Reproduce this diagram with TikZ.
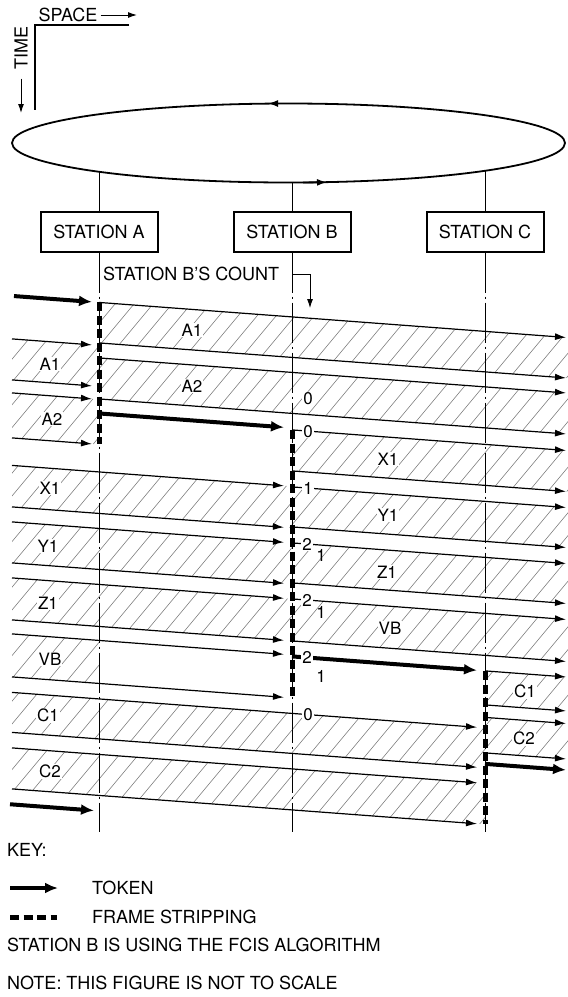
\documentclass[tikz,border=0pt]{standalone}
\usepackage{fontspec}
\setmainfont{TeX Gyre Heros}
\usetikzlibrary{arrows.meta,positioning}
\newcommand{\figfont}{\fontsize{18}{21}\selectfont}
\newcommand{\lblfont}{\fontsize{17}{20}\selectfont}

\begin{document}
\begin{tikzpicture}[x=1pt,y=-1pt,font=\figfont,
	station/.style={draw,line width=2pt,minimum width=117pt,minimum height=40pt,inner sep=0pt},
	txt/.style={inner sep=0pt},
	lbl/.style={font=\lblfont,fill=white,inner sep=1pt},
	fline/.style={line width=1.2pt,-{Latex[length=11pt,width=7pt]}},
	token/.style={line width=4pt,-{Latex[length=13pt,width=11pt]}},
	strip/.style={line width=5pt,dash pattern=on 9pt off 4.5pt},
	stline/.style={line width=0.6pt,dash pattern=on 40pt off 4pt on 2pt off 4pt},
	hatch/.style={line width=0.6pt,black!50}]
	\useasboundingbox (0,0) rectangle (568,997);

	% space / time axes
	\node[txt] (space) at (68,15) {SPACE};
	\coordinate (spaceTip) at (137,15);
	\draw[line width=1pt,-{Latex[length=9pt,width=6pt]}] ([xshift=3pt]space.east) -- (spaceTip);
	\draw[line width=1.3pt] (129,25) -- (35,25) -- (35,110);
	\node[txt,rotate=90] (time) at (21,48) {TIME};
	\coordinate (timeTip) at (21,113);
	\draw[line width=1pt,-{Latex[length=9pt,width=6pt]}] ([yshift=-9pt]time.west) -- (timeTip);

	% ring and stations
	\draw[line width=1.8pt] (288.5,143) ellipse [x radius=276.5, y radius=39.5];
	\draw[line width=1.8pt,-{Latex[length=10pt,width=7pt]}] (292,103.5) -- (268,103.5);
	\draw[line width=1.8pt,-{Latex[length=10pt,width=7pt]}] (303,182.5) -- (327,182.3);
	\node[station] (staA) at (99,231.5) {STATION A};
	\node[station] (staB) at (292,231.5) {STATION B};
	\node[station] (staC) at (485,231.5) {STATION C};
	\coordinate (ringA) at (99,171.7);
	\coordinate (ringB) at (292,182.5);
	\coordinate (ringC) at (485,170.9);
	\foreach \s in {A,B,C}
		\draw[line width=1pt] (ring\s) -- (sta\s);

	% hatched frames
	\begin{scope}
		\clip \foreach \xa/\xb/\ya/\yb in {99/568/295/335.5, 99/568/350.5/391.5,
			12/99/338/379, 12/99/392/437,
			292/568/408/449, 12/292/464.5/506, 292/568/465/505, 12/292/521/562,
			292/568/521/561, 12/292/577/619, 292/568/577/619, 12/99/633/676,
			12/485/691.5/731.5, 12/485/747/788, 485/568/634.5/668.5, 485/568/681/716.5}
			{(\xa,{\ya+0.075*\xa}) -- (\xb,{\ya+0.075*\xb}) -- (\xb,{\yb+0.075*\xb}) -- (\xa,{\yb+0.075*\xa}) -- cycle};
		\foreach \x in {-720,-701,...,570}
			\draw[hatch] (\x,850) -- ++(700,-840);
	\end{scope}

	% station time lines
	\foreach \s/\x in {A/99,B/292,C/485} {
		\coordinate (end\s) at (\x,832);
		\draw[stline] (sta\s) -- (end\s);
	}

	% frames
	\foreach \xa/\xb/\ya in {12/92/338, 12/92/379, 12/92/392, 12/92/437,
		12/284/464.5, 12/284/506, 12/284/521, 12/284/562, 12/284/577, 12/284/619, 12/284/633, 12/284/676,
		12/477/691.5, 12/477/731.5, 12/477/747, 12/477/788,
		99/566/295, 99/566/335.5, 99/566/350.5, 99/566/391.5,
		292/566/408, 292/566/449, 292/566/465, 292/566/505, 292/566/521, 292/566/561, 292/566/577, 292/566/619,
		485/566/634.5, 485/566/668.5, 485/566/681, 485/566/716.5}
		\draw[fline] (\xa,{\ya+0.075*\xa}) -- (\xb,{\ya+0.075*\xb});

	% tokens
	\foreach \xa/\xb/\ya in {14/92/295, 99/284/406, 292/477/634.5, 485/566/727.5, 10/94/803.5}
		\draw[token] (\xa,{\ya+0.075*\xa}) -- (\xb,{\ya+0.075*\xb});

	% frame stripping
	\draw[strip] (99,302) -- (99,444);
	\draw[strip] (292,430) -- (292,697);
	\draw[strip] (485,671) -- (485,824);

	% station B's count
	\node[txt,anchor=west] (cnt) at (103,274) {STATION B'S COUNT};
	\coordinate (cntTip) at (310,308);
	\draw[line width=0.8pt,-{Latex[length=9pt,width=6pt]}] (cnt.east -| staB) -| (cntTip);
	\node[lbl] (n0) at (308,399) {0};
	\node[lbl] (n1) at (308,{408+0.075*308}) {0};
	\node[lbl] (n2) at (308,{465+0.075*308}) {1};
	\node[lbl] (n3) at (307,{521+0.075*307}) {2};
	\node[txt,font=\lblfont] (n3s) at (321,555) {1};
	\node[lbl] (n4) at (307,{577+0.075*307}) {2};
	\node[txt,font=\lblfont] (n4s) at (321,612) {1};
	\node[lbl] (n5) at (307,{634.5+0.075*307}) {2};
	\node[txt,font=\lblfont] (n5s) at (321,676) {1};
	\node[lbl] (n6) at (308,{691.5+0.075*308}) {0};

	% frame names
	\node[lbl] (a1r) at (192,330) {A1};
	\node[lbl] (a2r) at (192,386) {A2};
	\node[lbl] (a1l) at (50,364) {A1};
	\node[lbl] (a2l) at (52,419) {A2};
	\node[lbl] (x1r) at (388,459) {X1};
	\node[lbl] (y1r) at (388,515) {Y1};
	\node[lbl] (z1r) at (387,572) {Z1};
	\node[lbl] (vbr) at (390,628) {VB};
	\node[lbl] (x1l) at (50,488) {X1};
	\node[lbl] (y1l) at (48,546) {Y1};
	\node[lbl] (z1l) at (48,603) {Z1};
	\node[lbl] (vbl) at (50,659) {VB};
	\node[lbl] (c1l) at (48,715) {C1};
	\node[lbl] (c2l) at (50,771) {C2};
	\node[lbl] (c1r) at (525,691) {C1};
	\node[lbl] (c2r) at (524,738) {C2};

	% key
	\node[txt,anchor=west] (key) at (7,850) {KEY:};
	\coordinate (keyTokA) at (10,888);
	\coordinate (keyTokB) at (58,888);
	\draw[token] (keyTokA) -- (keyTokB);
	\node[txt,anchor=west] (keyTok) at (92,888) {TOKEN};
	\draw[strip] (10,917) -- (57,917);
	\node[txt,anchor=west] (keyStrip) at (92,917) {FRAME STRIPPING};
	\node[txt,anchor=west] (algo) at (7,945) {STATION B IS USING THE FCIS ALGORITHM};
	\node[txt,anchor=west] (note) at (7,983) {NOTE: THIS FIGURE IS NOT TO SCALE};
\end{tikzpicture}
\end{document}
